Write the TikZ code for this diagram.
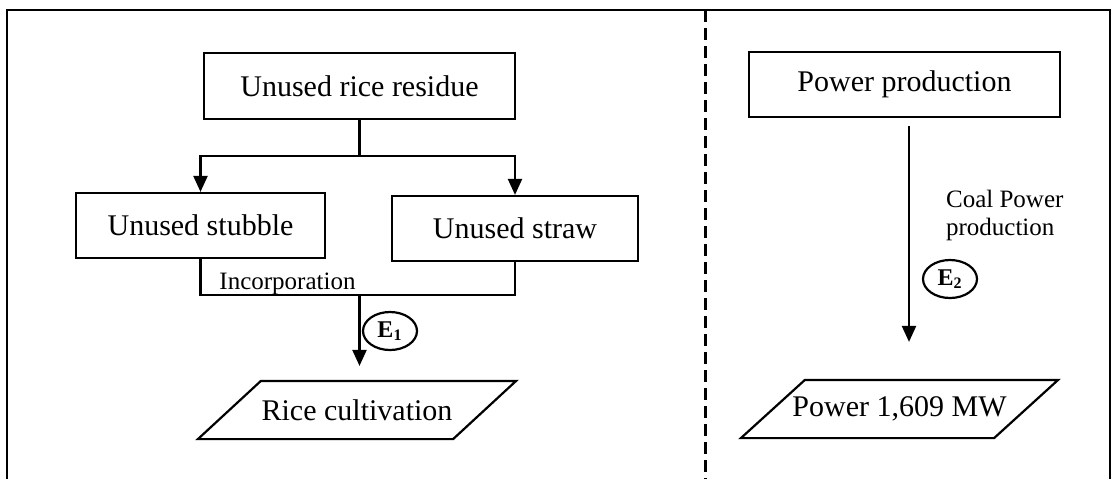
\documentclass[tikz,border=0pt]{standalone}
\usepackage{fontspec}
\setmainfont{Liberation Serif}
\usetikzlibrary{arrows.meta,calc,positioning,shapes.geometric}

\begin{document}
\begin{tikzpicture}[
        x=0.5pt, y=-0.5pt,
        line width=1.1pt,
        box/.style={
            draw,
            rectangle,
            minimum height=33pt,
            inner sep=0pt,
            font=\fontsize{15}{18}\selectfont
        },
        slanted/.style={
            rectangle,
            minimum height=28pt,
            inner sep=0pt,
            font=\fontsize{15}{18}\selectfont
        },
        arrow/.style={
            -{Triangle[width=7pt,length=8pt]}
        },
        note/.style={
            font=\fontsize{12.5}{14}\selectfont,
            inner sep=0pt
        },
        ebubble/.style={
            draw,
            ellipse,
            minimum width=27pt,
            minimum height=19pt,
            inner sep=0pt,
            font=\fontsize{12}{13}\selectfont\bfseries
        }
    ]
        \useasboundingbox (0,0) rectangle (1115,479);
        \draw (7,479) -- (7,10) -- (1110,10) -- (1110,479);
        \draw[line width=1.5pt, dash pattern=on 6pt off 3pt] (705,10) -- (705,479);

        % rice residue side
        \node (residue) [box, minimum width=155.5pt] at (359.5,86) {Unused rice residue};
        \node (stubble) [box, minimum width=124.5pt, minimum height=32.5pt] at (200.5,225.5) {Unused stubble};
        \node (straw) [box, minimum width=123pt, minimum height=32.5pt] at (515,228.5) {Unused straw};
        \node (rice) [slanted, minimum width=126.5pt] at (357,410) {Rice cultivation};
        \draw ($(rice.south west)+(-31.5,0)$) -- ($(rice.south east)+(-31.5,0)$)
            -- ($(rice.north east)+(31.5,0)$) -- ($(rice.north west)+(31.5,0)$) -- cycle;

        \coordinate (split) at ([yshift=-18pt]residue.south);
        \coordinate (merge) at ([yshift=-18pt]stubble.south -| residue.south);
        \draw (residue.south) -- (split);
        \draw[arrow] (split) -| (stubble.north);
        \draw[arrow] (split) -| (straw.north);
        \draw (stubble.south) |- (merge) -| (straw.south);
        \draw[arrow] (merge) -- ($(merge |- rice.north)+(0,-15)$);
        \node (incorp) [note, anchor=base] at (287.5,289) {Incorporation};
        \node (e1) [ebubble] at (390,331) {E\textsubscript{1}};

        % power side
        \node (prod) [box, minimum width=155.5pt, minimum height=32.5pt] at (904.5,84.5) {Power production};
        \node (power) [slanted, minimum width=125.5pt] at (899.5,409) {Power 1,609 MW};
        \draw ($(power.south west)+(-32,0)$) -- ($(power.south east)+(-32,0)$)
            -- ($(power.north east)+(32,0)$) -- ($(power.north west)+(32,0)$) -- cycle;
        \draw[arrow] ($(prod.south)+(4.5,8)$) -- ($(prod.south |- power.north)+(4.5,-38)$);
        \node (coal) [note, anchor=west, align=left] at (945,215) {Coal Power\\production};
        \node (e2) [ebubble] at (950,279) {E\textsubscript{2}};
    \end{tikzpicture}
\end{document}
